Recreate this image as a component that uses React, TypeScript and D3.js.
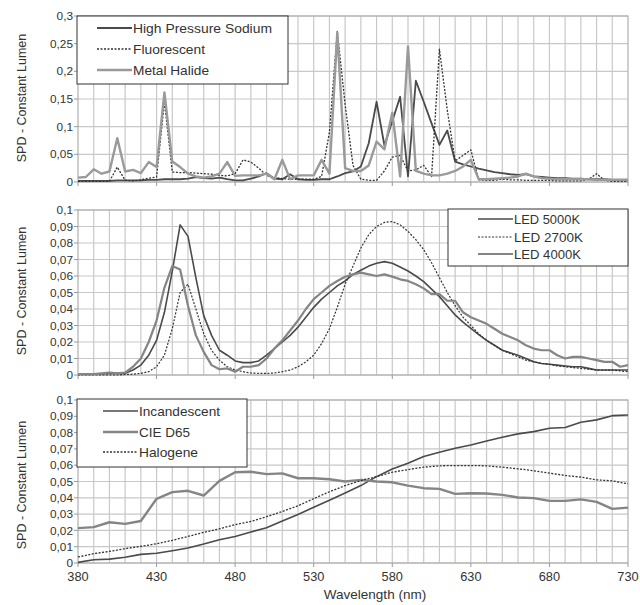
import React from "react";
import * as d3 from "d3";

// ---- data ----
const wl5 = d3.range(380, 731, 5);
const wl10 = d3.range(380, 731, 10);

const hps = [0.002,0.002,0.002,0.002,0.002,0.003,0.003,0.003,0.003,0.004,0.004,0.005,0.005,0.005,0.006,0.009,0.007,0.006,0.008,0.005,0.003,0.003,0.006,0.01,0.016,0.006,0.005,0.014,0.005,0.004,0.004,0.005,0.005,0.01,0.016,0.019,0.028,0.07,0.145,0.066,0.11,0.154,0.01,0.183,0.145,0.106,0.067,0.093,0.037,0.032,0.028,0.024,0.021,0.018,0.016,0.014,0.013,0.014,0.01,0.009,0.008,0.007,0.007,0.006,0.006,0.005,0.005,0.005,0.004,0.004,0.004];
const fluorescent = [0.001,0.001,0.001,0.001,0.001,0.027,0.003,0.002,0.004,0.007,0.009,0.145,0.018,0.017,0.017,0.016,0.015,0.014,0.012,0.011,0.015,0.04,0.036,0.025,0.012,0.008,0.006,0.005,0.005,0.005,0.005,0.01,0.09,0.272,0.14,0.03,0.005,0.003,0.003,0.02,0.045,0.048,0.02,0.022,0.03,0.01,0.24,0.13,0.038,0.048,0.058,0.004,0.003,0.003,0.005,0.004,0.004,0.003,0.003,0.003,0.003,0.002,0.002,0.002,0.002,0.005,0.015,0.003,0.001,0.001,0.001];
const metalHalide = [0.008,0.009,0.023,0.015,0.019,0.079,0.019,0.022,0.016,0.036,0.027,0.162,0.037,0.027,0.015,0.01,0.008,0.01,0.015,0.036,0.011,0.012,0.012,0.012,0.015,0.005,0.04,0.005,0.012,0.012,0.012,0.04,0.015,0.27,0.025,0.02,0.02,0.03,0.073,0.059,0.125,0.01,0.245,0.02,0.015,0.012,0.012,0.015,0.02,0.028,0.04,0.005,0.005,0.006,0.007,0.008,0.01,0.015,0.01,0.007,0.006,0.005,0.005,0.005,0.005,0.005,0.004,0.004,0.004,0.004,0.004];

const led5000 = [0.0005,0.0005,0.0005,0.0008,0.001,0.001,0.001,0.003,0.006,0.012,0.021,0.038,0.063,0.091,0.084,0.059,0.036,0.024,0.015,0.012,0.0085,0.0075,0.0075,0.0085,0.012,0.016,0.02,0.024,0.029,0.035,0.041,0.046,0.05,0.054,0.057,0.061,0.0635,0.066,0.0677,0.0687,0.0677,0.0655,0.063,0.06,0.0566,0.052,0.0475,0.042,0.0364,0.032,0.0283,0.0245,0.021,0.018,0.015,0.0135,0.012,0.01,0.008,0.007,0.0065,0.006,0.0055,0.005,0.005,0.004,0.003,0.003,0.003,0.003,0.003];
const led2700 = [0,0,0,0,0,0,0.0003,0.0005,0.001,0.002,0.005,0.012,0.028,0.05,0.055,0.04,0.025,0.015,0.009,0.005,0.003,0.002,0.0012,0.001,0.001,0.0012,0.002,0.003,0.005,0.008,0.012,0.019,0.028,0.041,0.055,0.066,0.077,0.085,0.09,0.0925,0.093,0.091,0.087,0.082,0.076,0.068,0.059,0.05,0.042,0.035,0.03,0.025,0.021,0.018,0.015,0.013,0.011,0.009,0.008,0.007,0.0065,0.0055,0.005,0.0045,0.004,0.0035,0.003,0.003,0.003,0.0025,0.002];
const led4000 = [0.0005,0.0005,0.0005,0.001,0.0015,0.001,0.0015,0.005,0.01,0.02,0.033,0.053,0.066,0.064,0.042,0.024,0.014,0.006,0.0035,0.004,0.002,0.005,0.005,0.006,0.01,0.016,0.021,0.027,0.033,0.04,0.046,0.05,0.054,0.057,0.0595,0.061,0.062,0.061,0.06,0.061,0.0596,0.058,0.057,0.055,0.0525,0.049,0.049,0.045,0.045,0.038,0.035,0.033,0.031,0.028,0.025,0.023,0.021,0.018,0.016,0.015,0.015,0.012,0.01,0.011,0.011,0.01,0.009,0.008,0.008,0.005,0.006];

const incandescent = [0.0004,0.002,0.0024,0.0035,0.0053,0.006,0.0075,0.0092,0.0116,0.0143,0.0163,0.019,0.0216,0.0257,0.0298,0.0342,0.0385,0.0429,0.0475,0.053,0.0577,0.0612,0.0653,0.068,0.0704,0.0724,0.0749,0.0772,0.0792,0.0806,0.0827,0.0831,0.0863,0.0878,0.0904,0.0908];
const cieD65 = [0.0214,0.022,0.025,0.024,0.0258,0.0394,0.0435,0.0443,0.0414,0.0504,0.0557,0.056,0.0545,0.055,0.052,0.052,0.0514,0.05,0.051,0.05,0.0495,0.0475,0.0459,0.0455,0.0424,0.0428,0.0426,0.0418,0.0402,0.0398,0.0381,0.0381,0.039,0.0375,0.0332,0.034];
const halogene = [0.0037,0.0057,0.0071,0.0088,0.0102,0.0118,0.0139,0.0163,0.0188,0.021,0.0235,0.0255,0.0284,0.0316,0.0351,0.0395,0.0437,0.0475,0.0506,0.053,0.0557,0.0573,0.0588,0.0596,0.0598,0.0598,0.0596,0.0588,0.0578,0.0566,0.0551,0.0537,0.0527,0.051,0.0504,0.0486];

const xTicks = [380, 430, 480, 530, 580, 630, 680, 730];
const yTicksTop = [0, 0.05, 0.1, 0.15, 0.2, 0.25, 0.3];
const yTicksLow = [0, 0.01, 0.02, 0.03, 0.04, 0.05, 0.06, 0.07, 0.08, 0.09, 0.1];

const FONT = "Liberation Sans, Arial, sans-serif";
const fmt = (v: number) => (v === 0 ? "0" : String(+v.toFixed(3)).replace(".", ","));

type S = { name: string; x: number[]; y: number[]; color: string; width: number; dash?: string };

const X0 = 78, X1 = 628;
const x = d3.scaleLinear().domain([380, 730]).range([X0, X1]);

function Panel(props: {
  top: number; bottom: number; max: number; ticks: number[]; series: S[];
  legend: { x: number; y: number; w: number; h: number; lineX0: number; lineX1: number; rows: number[]; tw: number[] };
  showX: boolean; titleY: number;
}) {
  const { top, bottom, max, ticks, series, legend, showX, titleY } = props;
  const y = d3.scaleLinear().domain([0, max]).range([bottom, top]);
  const vgrid = d3.range(390, 730, 10);
  return (
    <g>
      {vgrid.map((v) => (
        <line key={"v" + v} x1={x(v)} x2={x(v)} y1={top} y2={bottom} stroke="#c8c8c8" strokeWidth={1.2} />
      ))}
      {ticks.map((t) => (
        <line key={"h" + t} x1={X0} x2={X1} y1={y(t)} y2={y(t)} stroke="#c8c8c8" strokeWidth={1.2} />
      ))}
      <rect x={X0} y={top} width={X1 - X0} height={bottom - top} fill="none" stroke="#b0b0b0" strokeWidth={1.2} />
      {xTicks.map((t) => (
        <line key={"xt" + t} x1={x(t)} x2={x(t)} y1={bottom} y2={bottom + 4} stroke="#999" />
      ))}
      {ticks.map((t) => (
        <g key={"yt" + t}>
          <line x1={X0 - 4} x2={X0} y1={y(t)} y2={y(t)} stroke="#999" />
          <text x={X0 - 5} y={y(t)} dy="0.35em" textAnchor="end" fontSize={11.8} fontFamily={FONT} fill="#333">
            {fmt(t)}
          </text>
        </g>
      ))}
      {showX &&
        xTicks.map((t) => (
          <text key={"xl" + t} x={x(t)} y={bottom + 18} textAnchor="middle" fontSize={12.8} fontFamily={FONT} fill="#333">
            {t}
          </text>
        ))}
      <text
        transform={`translate(22,${titleY}) rotate(-90)`}
        textAnchor="middle"
        dy="0.35em"
        fontSize={12.5}
        fontFamily={FONT}
        fill="#333"
      >
        SPD - Constant Lumen
      </text>
      {series.map((s) => {
        const pts = s.x.map((v, i) => [v, s.y[i]] as [number, number]);
        const path = d3.line<[number, number]>().x((d) => x(d[0])).y((d) => y(d[1]))(pts) || "";
        return (
          <path key={s.name} d={path} fill="none" stroke={s.color} strokeWidth={s.width} strokeDasharray={s.dash} strokeLinejoin="round" />
        );
      })}
      <rect x={legend.x} y={legend.y} width={legend.w} height={legend.h} fill="#fff" stroke="#333" strokeWidth={1} />
      {series.map((s, i) => (
        <g key={"lg" + s.name}>
          <line x1={legend.lineX0} x2={legend.lineX1} y1={legend.rows[i]} y2={legend.rows[i]} stroke={s.color} strokeWidth={s.width} strokeDasharray={s.dash} />
          <text x={legend.lineX1 + 1} y={legend.rows[i]} dy="0.35em" fontSize={13} fontFamily={FONT} fill="#333"
            textLength={legend.tw[i]} lengthAdjust="spacingAndGlyphs">
            {s.name}
          </text>
        </g>
      ))}
    </g>
  );
}

export default function App() {
  const topSeries: S[] = [
    { name: "High Pressure Sodium", x: wl5, y: hps, color: "#4a4a4a", width: 1.8 },
    { name: "Fluorescent", x: wl5, y: fluorescent, color: "#333", width: 1.3, dash: "2,1.5" },
    { name: "Metal Halide", x: wl5, y: metalHalide, color: "#9a9a9a", width: 2.4 },
  ];
  const midSeries: S[] = [
    { name: "LED 5000K", x: wl5, y: led5000, color: "#4a4a4a", width: 1.6 },
    { name: "LED 2700K", x: wl5, y: led2700, color: "#333", width: 1.2, dash: "2,1.5" },
    { name: "LED 4000K", x: wl5, y: led4000, color: "#858585", width: 2.2 },
  ];
  const lowSeries: S[] = [
    { name: "Incandescent", x: wl10, y: incandescent, color: "#4a4a4a", width: 1.6 },
    { name: "CIE D65", x: wl10, y: cieD65, color: "#858585", width: 2.4 },
    { name: "Halogene", x: wl10, y: halogene, color: "#333", width: 1.3, dash: "2,1.5" },
  ];
  return (
    <svg width={640} height={605} style={{ position: "absolute", left: 0, top: 0, background: "#fff" }}>
      <rect width={640} height={605} fill="#fff" />
      <Panel top={16} bottom={182} max={0.3} ticks={yTicksTop} series={topSeries}
        legend={{ x: 77, y: 16, w: 211, h: 68, lineX0: 97, lineX1: 132, rows: [28, 49, 70], tw: [139, 72, 76] }}
        showX={false} titleY={98} />
      <Panel top={210} bottom={375} max={0.1} ticks={yTicksLow} series={midSeries}
        legend={{ x: 448, y: 209, w: 180, h: 57, lineX0: 478, lineX1: 513, rows: [219, 237, 254], tw: [66, 69, 67] }}
        showX={false} titleY={291} />
      <Panel top={400} bottom={563} max={0.1} ticks={yTicksLow} series={lowSeries}
        legend={{ x: 77, y: 399, w: 170, h: 68, lineX0: 103, lineX1: 138, rows: [411, 432, 452], tw: [81, 51, 59] }}
        showX={true} titleY={485} />
      <text x={375} y={594} textAnchor="middle" dy="0.35em" fontSize={13.5} fontFamily={FONT} fill="#333">
        Wavelength (nm)
      </text>
    </svg>
  );
}
